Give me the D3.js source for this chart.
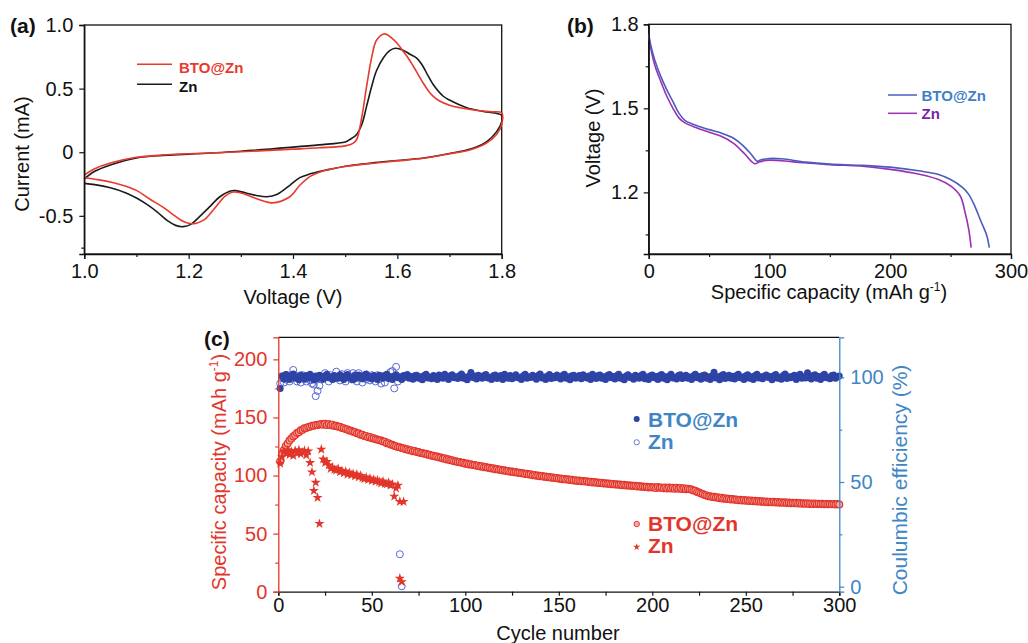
<!DOCTYPE html>
<html><head><meta charset="utf-8">
<script src="https://cdn.jsdelivr.net/npm/d3@7"></script>
<style>body{margin:0;background:#fff}svg{display:block}text{font-family:Arial,"Liberation Sans",sans-serif}</style>
</head><body><svg id="fig" width="1028" height="643"></svg>
<script>
// ---------- Panel (a): cyclic voltammetry ----------
const aXTicks = [1.0, 1.2, 1.4, 1.6, 1.8];
const aXMinor = [1.1, 1.3, 1.5, 1.7];
const aYTicks = [-0.5, 0, 0.5, 1.0];
const aYMinor = [-0.75];
const cvBtoUpV = [1.0,1.02,1.05,1.1,1.15,1.2,1.3,1.4,1.45,1.5,1.515,1.522,1.532,1.541,1.551,1.56,1.574,1.58,1.59,1.6,1.61,1.62,1.63,1.64,1.65,1.66,1.67,1.68,1.7,1.72,1.75,1.78,1.8];
const cvBtoUpI = [-0.18,-0.13,-0.085,-0.04,-0.022,-0.012,0.004,0.024,0.035,0.05,0.07,0.1,0.28,0.515,0.75,0.88,0.93,0.925,0.895,0.855,0.80,0.745,0.68,0.61,0.54,0.48,0.435,0.405,0.37,0.35,0.33,0.318,0.31];
const cvBtoLowV = [1.8,1.79,1.77,1.74,1.7,1.65,1.6,1.55,1.5,1.47,1.452,1.433,1.413,1.394,1.36,1.34,1.32,1.3,1.285,1.27,1.25,1.23,1.215,1.205,1.19,1.17,1.15,1.126,1.1,1.07,1.04,1.02,1.0];
const cvBtoLowI = [0.22,0.14,0.07,0.02,-0.012,-0.048,-0.068,-0.088,-0.112,-0.135,-0.155,-0.19,-0.26,-0.35,-0.398,-0.38,-0.35,-0.32,-0.313,-0.345,-0.44,-0.53,-0.558,-0.562,-0.545,-0.49,-0.43,-0.37,-0.3,-0.255,-0.225,-0.212,-0.2];
const cvZnUpV = [1.0,1.02,1.05,1.1,1.15,1.2,1.3,1.4,1.45,1.5,1.509,1.522,1.532,1.541,1.551,1.56,1.573,1.586,1.596,1.612,1.624,1.637,1.647,1.659,1.669,1.688,1.7,1.733,1.765,1.8];
const cvZnUpI = [-0.21,-0.15,-0.1,-0.045,-0.025,-0.015,0.008,0.04,0.058,0.08,0.1,0.14,0.22,0.36,0.52,0.64,0.74,0.8,0.817,0.8,0.77,0.74,0.69,0.6,0.53,0.44,0.41,0.35,0.32,0.29];
const cvZnLowV = [1.8,1.79,1.77,1.74,1.7,1.65,1.6,1.55,1.5,1.47,1.452,1.433,1.413,1.394,1.37,1.35,1.33,1.31,1.29,1.28,1.26,1.24,1.22,1.205,1.19,1.175,1.16,1.14,1.12,1.1,1.08,1.05,1.02,1.0];
const cvZnLowI = [0.24,0.16,0.08,0.025,-0.01,-0.045,-0.065,-0.085,-0.11,-0.135,-0.15,-0.17,-0.2,-0.26,-0.33,-0.35,-0.34,-0.32,-0.302,-0.305,-0.35,-0.43,-0.51,-0.565,-0.585,-0.575,-0.54,-0.47,-0.41,-0.36,-0.32,-0.28,-0.255,-0.245];

// ---------- Panel (b): discharge curves ----------
const bXTicks = [0, 100, 200, 300];
const bXMinor = [50, 150, 250];
const bYTicks = [1.2, 1.5, 1.8];
const bYMinor = [1.05, 1.35, 1.65];
const dcBtoCap = [0,2,5,10,15,20,25,30,40,50,60,70,80,85,90,92,100,110,130,150,175,200,225,240,250,260,265,270,275,280,282];
const dcBtoV = [1.765,1.72,1.673,1.614,1.566,1.525,1.483,1.457,1.438,1.424,1.412,1.394,1.359,1.335,1.311,1.315,1.321,1.32,1.308,1.301,1.297,1.29,1.276,1.264,1.246,1.217,1.193,1.151,1.098,1.045,1.003];
const dcZnCap = [0,2,5,10,15,20,25,30,40,50,60,70,80,85,88,92,100,120,150,175,200,225,240,250,258,262,265,267];
const dcZnV = [1.756,1.709,1.655,1.596,1.543,1.501,1.466,1.448,1.43,1.415,1.4,1.376,1.335,1.311,1.302,1.309,1.315,1.309,1.299,1.294,1.282,1.264,1.246,1.223,1.187,1.128,1.068,1.003];

// ---------- Panel (c): cycling ----------
const cXTicks = [0, 50, 100, 150, 200, 250, 300];
const cXMinor = [25, 75, 125, 175, 225, 275];
const cYLTicks = [0, 50, 100, 150, 200];
const cYLMinor = [25, 75, 125, 175];
const cYRTicks = [0, 50, 100];
const cYRMinor = [25, 75];
// BTO@Zn specific capacity, cycles 1..300
const btoCapacity = [
112,118.5,122,125.5,127.5,130.2,131.8,133.6,134.8,136.6,137.3,138.9,139.4,140.7,141,141.7,142.1,142.8,142.9,143.6,
143.6,143.9,144.4,143.7,144.5,143.5,144.3,143.2,143.8,142.7,142.9,141.9,142,141,140.8,140.1,139.7,138.8,138.6,137.6,
137.5,136.4,136.3,135.2,135.2,134.1,134.1,133,133.1,132.2,132.1,131.3,131,130.4,130.2,129.2,129.1,127.9,127.8,126.8,
126.5,125.7,125.3,124.5,124.4,123.6,123.4,122.7,122.6,121.8,121.8,121,121.1,120.2,120.2,119.5,119.4,118.7,118.7,117.9,
117.9,117.1,117.1,116.3,116.3,115.6,115.5,114.7,114.8,113.9,114,113.2,113.1,112.4,112.3,111.6,111.7,110.9,111,110.2,
110.3,109.6,109.8,109,109.1,108.5,108.5,107.8,108,107.2,107.3,106.7,106.7,106,106.2,105.4,105.6,104.9,105,104.4,
104.5,103.9,104,103.3,103.5,102.8,103,102.4,102.5,101.9,102,101.3,101.5,100.8,101,100.3,100.5,99.9,100,99.4,
99.6,99,99.2,98.6,98.8,98.2,98.3,97.8,97.9,97.3,97.5,96.9,97.1,96.6,96.7,96.2,96.4,95.8,96,95.4,
95.7,95.1,95.3,94.8,95,94.4,94.7,94.1,94.4,93.8,94,93.5,93.7,93.2,93.4,92.9,93.1,92.6,92.8,92.3,
92.5,92,92.2,91.7,92,91.4,91.7,91.1,91.4,90.9,91.1,90.6,90.9,90.3,90.6,90.1,90.3,89.8,90.1,89.6,
89.9,89.2,90.1,89.4,89.8,89,89.7,88.9,89.6,88.8,89.5,88.7,89.4,88.6,89.2,88.5,89,88.3,88.7,88.1,
87.9,87.2,86.8,85.9,85.3,84.5,84,83.2,82.9,82.2,82.2,81.5,81.7,81,81.2,80.5,80.8,80.1,80.5,79.8,
80,79.3,79.7,79.1,79.4,78.8,79.2,78.5,78.9,78.3,78.7,78.1,78.5,77.8,78.3,77.6,78.1,77.4,77.9,77.3,
77.7,77.1,77.5,76.9,77.4,76.7,77.2,76.6,77,76.5,76.9,76.3,76.7,76.2,76.6,76.1,76.5,75.9,76.4,75.8,
76.2,75.7,76.1,75.6,76,75.5,75.9,75.4,75.8,75.4,75.7,75.3,75.6,75.2,75.5,75.2,75.5,75.1,75.4,75.1
];
// BTO@Zn coulombic efficiency (%), cycles 1..300
const btoCE = [
94.7,100.5,99.2,101.3,100.1,98.9,100.8,101.6,99.5,100.2,98.8,101.1,100.4,99.3,100.9,99.7,101.4,100.0,98.7,100.6,
99.4,101.0,100.3,99.1,100.7,101.5,99.8,100.2,98.9,100.9,100.1,99.6,101.2,100.4,99.0,100.6,101.3,99.7,100.0,98.8,
100.8,99.5,101.1,100.2,99.3,100.7,101.6,99.9,100.4,99.2,100.9,100.1,98.9,101.0,100.3,99.6,100.8,101.4,99.4,100.2,
99.0,100.6,101.2,99.8,100.3,98.9,100.9,100.0,101.3,99.5,100.4,99.1,100.7,101.0,99.6,100.2,98.8,100.8,101.5,99.7,
100.1,99.3,100.9,100.4,98.9,101.1,100.0,99.5,101.4,100.2,99.0,100.7,101.2,99.8,100.3,99.4,100.8,101.6,99.6,100.1,
98.8,100.5,102.3,99.9,100.6,99.2,101.0,100.3,99.5,100.9,101.3,99.7,100.0,98.9,100.7,101.1,99.4,100.2,100.8,99.0,
101.4,100.1,99.6,100.9,99.3,100.4,101.2,99.8,100.0,98.9,100.7,101.5,99.5,100.3,99.9,101.0,100.2,99.1,100.8,101.6,
99.7,100.1,98.9,100.6,101.3,99.4,100.4,99.8,101.1,100.0,99.2,100.9,101.4,99.6,100.2,98.8,100.7,101.0,99.5,100.3,
100.9,99.3,101.2,100.1,99.7,100.6,98.9,101.5,100.0,99.4,100.8,101.1,99.6,100.2,99.0,100.9,101.3,99.8,100.4,99.2,
100.7,101.4,99.5,100.0,98.8,100.6,101.2,99.9,100.3,99.1,101.0,100.2,99.6,100.8,101.5,99.3,100.1,98.9,100.7,101.1,
99.8,100.4,99.0,100.9,101.3,99.5,100.2,98.8,100.6,101.4,99.7,100.0,99.2,100.8,101.2,99.4,100.3,101.0,99.6,100.1,
98.9,100.7,101.5,99.8,100.4,99.1,100.9,101.1,99.5,100.2,99.0,100.6,102.4,99.7,100.3,98.8,100.8,101.3,99.4,100.0,
101.0,99.6,100.5,99.2,100.9,101.4,99.8,100.1,98.9,100.7,101.2,99.5,100.3,99.0,100.8,101.5,99.7,100.2,99.3,100.6,
101.1,99.9,100.4,98.8,100.7,101.3,99.6,100.0,99.1,100.9,101.6,99.4,100.2,99.8,100.5,101.0,98.9,100.6,101.4,99.5,
100.3,99.7,102.2,100.1,99.2,100.8,101.2,99.6,100.4,98.9,100.7,101.5,99.8,100.0,99.3,100.9,101.1,99.5,100.2,100.6
];
// Bare Zn: specific capacity, cycles 1..64, then the failure points
const znCapacity = [
110.5,116,121,119,122,118,120.5,117,121.5,119,122,118.5,120,121.5,117.5,121,111,103,87,94,
81,58.5,122.5,114,111,112,109,106,107,105,104.5,106,103,104,102,103.5,101,102.5,100.5,101.5,
99.5,101,98.5,100,98,97,98.5,96.5,97.5,95.5,96.5,95,96,94.5,93.5,95,93,92.5,94,91.5,
92.5,82,89,91.5
];
const znCapTailCycle = [65, 65, 66, 67];
const znCapTail = [77.5, 11.5, 8.5, 77.5];
// Bare Zn: coulombic efficiency, cycles 1..66
const znCE = [
97,100.5,97.5,99,101,98,101,103.5,101,98,100,97.5,101,99,98,100,98.5,97,96.5,91,
93.5,96,99,100,102,100,98,101,100,99.5,102.7,100,98.5,101.5,100,98,102,100,99,102,
101,98,102,100,97.5,101,99,100,98.5,101,100,98,101,99,97,100.5,97.5,101,100,102.5,
103,94.7,105,98,15.5,0.2
];

// ---------- drawing ----------
const svg = d3.select('#fig');
const BLACK = '#111';
function fmt1(d){ return d === 0 ? '0' : d.toFixed(1).replace('\u2212','-'); }

function drawAxis(g, axisFn, scale, major, minor, opts) {
  const color = opts.color || BLACK;
  const a = g.append('g').attr('transform', opts.transform)
    .call(axisFn(scale).tickValues(major).tickSize(opts.major || 5).tickPadding(opts.pad || 5)
      .tickFormat(opts.format || (d => String(d))));
  a.select('.domain').attr('stroke', color).attr('stroke-width', 1.3);
  a.selectAll('.tick line').attr('stroke', color).attr('stroke-width', 1.2);
  a.selectAll('.tick text').attr('fill', color).attr('font-size', opts.fs || 20)
    .attr('font-family', 'Arial, "Liberation Sans", sans-serif');
  if (minor && minor.length) {
    const m = g.append('g').attr('transform', opts.transform)
      .call(axisFn(scale).tickValues(minor).tickSize(opts.minor || 3).tickFormat(''));
    m.select('.domain').remove();
    m.selectAll('.tick line').attr('stroke', color).attr('stroke-width', 1.2);
  }
  return a;
}
function frame(x0, x1, y0, y1, color) {
  svg.append('rect').attr('x', x0).attr('y', y0).attr('width', x1 - x0).attr('height', y1 - y0)
    .attr('fill', 'none').attr('stroke', color || BLACK).attr('stroke-width', 1.3);
}
function label(x, y, txt, o) {
  o = o || {};
  return svg.append('text').attr('x', x).attr('y', y).text(txt)
    .attr('font-size', o.fs || 20).attr('font-weight', o.bold ? 'bold' : 'normal')
    .attr('fill', o.color || BLACK).attr('text-anchor', o.anchor || 'start');
}
function vtitle(cx, cy, parts, o) {
  const t = svg.append('text').attr('transform', `translate(${cx},${cy}) rotate(-90)`)
    .attr('text-anchor', 'middle').attr('dy', '0.35em')
    .attr('font-size', o.fs || 20).attr('fill', o.color || BLACK);
  parts(t);
  return t;
}
function supTitle(t, pre, sup, post) {
  t.append('tspan').text(pre);
  t.append('tspan').text(sup).attr('font-size', 12).attr('dy', -8);
  t.append('tspan').text(post).attr('dy', 8);
}

// Panel (a)
{
  const x = d3.scaleLinear([1.0, 1.8], [84.3, 501.7]);
  const y = d3.scaleLinear([-0.8, 1.0], [254, 25]);
  frame(84.3, 501.7, 25, 254);
  const line = d3.line().x(d => x(d[0])).y(d => y(d[1])).curve(d3.curveCatmullRom.alpha(0.5));
  const loop = (uv, ui, lv, li) => uv.map((v, i) => [v, ui[i]]).concat(lv.map((v, i) => [v, li[i]]));
  svg.append('path').attr('d', line(loop(cvZnUpV, cvZnUpI, cvZnLowV, cvZnLowI)))
    .attr('fill', 'none').attr('stroke', '#1b1b1b').attr('stroke-width', 1.6);
  svg.append('path').attr('d', line(loop(cvBtoUpV, cvBtoUpI, cvBtoLowV, cvBtoLowI)))
    .attr('fill', 'none').attr('stroke', '#e8392d').attr('stroke-width', 1.6);
  drawAxis(svg, d3.axisBottom, x, aXTicks, aXMinor, {transform: 'translate(0,254)', format: d => d.toFixed(1), pad: 5});
  drawAxis(svg, d3.axisLeft, y, aYTicks, aYMinor, {transform: 'translate(84.3,0)', format: fmt1, pad: 6});
  label(293, 304, 'Voltage (V)', {anchor: 'middle'});
  vtitle(22, 154, t => t.text('Current (mA)'), {});
  label(10, 33, '(a)', {bold: true, fs: 21});
  // legend
  svg.append('line').attr('x1', 137).attr('x2', 172).attr('y1', 64.3).attr('y2', 64.3).attr('stroke', '#e8392d').attr('stroke-width', 1.5);
  svg.append('line').attr('x1', 137).attr('x2', 172).attr('y1', 84.3).attr('y2', 84.3).attr('stroke', '#1b1b1b').attr('stroke-width', 1.5);
  label(179, 73, 'BTO@Zn', {bold: true, fs: 15, color: '#e8392d'});
  label(179, 91.5, 'Zn', {bold: true, fs: 15, color: BLACK});
}

// Panel (b)
{
  const x = d3.scaleLinear([0, 300], [648.7, 1011]);
  const y = d3.scaleLinear([0.98, 1.8], [254, 24.3]);
  frame(648.7, 1011, 24.3, 254);
  const line = d3.line().x(d => x(d[0])).y(d => y(d[1])).curve(d3.curveCatmullRom.alpha(0.5));
  svg.append('path').attr('d', line(dcZnCap.map((c, i) => [c, dcZnV[i]])))
    .attr('fill', 'none').attr('stroke', '#9c2fb4').attr('stroke-width', 1.6);
  svg.append('path').attr('d', line(dcBtoCap.map((c, i) => [c, dcBtoV[i]])))
    .attr('fill', 'none').attr('stroke', '#4a5cbd').attr('stroke-width', 1.6);
  drawAxis(svg, d3.axisBottom, x, bXTicks, bXMinor, {transform: 'translate(0,254)', pad: 5});
  drawAxis(svg, d3.axisLeft, y, bYTicks, bYMinor, {transform: 'translate(648.7,0)', format: d => d.toFixed(1), pad: 5});
  const t = label(829, 299, '', {anchor: 'middle'});
  supTitle(t, 'Specific capacity (mAh g', '-1', ')');
  vtitle(593, 138, tt => tt.text('Voltage (V)'), {});
  label(567, 33, '(b)', {bold: true, fs: 21});
  svg.append('line').attr('x1', 888).attr('x2', 917).attr('y1', 95).attr('y2', 95).attr('stroke', '#4a5cbd').attr('stroke-width', 1.5);
  svg.append('line').attr('x1', 888).attr('x2', 917).attr('y1', 113.3).attr('y2', 113.3).attr('stroke', '#9c2fb4').attr('stroke-width', 1.5);
  label(921.5, 101, 'BTO@Zn', {bold: true, fs: 15, color: '#3f7fc8'});
  label(921.5, 119, 'Zn', {bold: true, fs: 15, color: '#7a1fa8'});
}

// Panel (c)
{
  const RED = '#e2352b', BLUE = '#3f86c7';
  const x = d3.scaleLinear([0, 300], [278.3, 839.3]);
  const yL = d3.scaleLinear([0, 219], [591.7, 337.3]);
  const yR = d3.scaleLinear([-2.4, 119.1], [591.7, 337.3]);
  svg.append('line').attr('x1', 278.3).attr('x2', 839.3).attr('y1', 337.3).attr('y2', 337.3).attr('stroke', BLACK).attr('stroke-width', 1.3);
  const g = svg.append('g');
  // Zn CE (open circles)
  g.selectAll('.zce').data(znCE).join('circle')
    .attr('cx', (d, i) => x(i + 1)).attr('cy', d => yR(d)).attr('r', 3.5)
    .attr('fill', 'none').attr('stroke', '#5a68d2').attr('stroke-width', 1);
  // BTO CE (filled)
  g.selectAll('.bce').data(btoCE).join('circle')
    .attr('cx', (d, i) => x(i + 1)).attr('cy', d => yR(d)).attr('r', 3.5)
    .attr('fill', '#2d43a5');
  // BTO capacity
  g.selectAll('.bcap').data(btoCapacity).join('circle')
    .attr('cx', (d, i) => x(i + 1)).attr('cy', d => yL(d)).attr('r', 3.4)
    .attr('fill', '#f6aaa2').attr('stroke', RED).attr('stroke-width', 1.2);
  // Zn capacity stars
  const star = d3.symbol().type(d3.symbolStar).size(32);
  const znPts = znCapacity.map((v, i) => [i + 1, v]).concat(znCapTail.map((v, i) => [znCapTailCycle[i], v]));
  g.selectAll('.zcap').data(znPts).join('path')
    .attr('transform', d => `translate(${x(d[0])},${yL(d[1])})`).attr('d', star).attr('fill', RED);
  drawAxis(svg, d3.axisBottom, x, cXTicks, cXMinor, {transform: 'translate(0,591.7)', major: 4, minor: 4, pad: 2, fs: 20});
  drawAxis(svg, d3.axisLeft, yL, cYLTicks, cYLMinor, {transform: 'translate(278.3,0)', color: RED, pad: 6, fs: 20});
  drawAxis(svg, d3.axisRight, yR, cYRTicks, cYRMinor, {transform: 'translate(839.3,0)', color: BLUE, pad: 6, fs: 20});
  label(558, 640, 'Cycle number', {anchor: 'middle'});
  vtitle(219, 472, tt => supTitle(tt, 'Specific capacity (mAh g', '-1', ')'), {color: RED, fs: 20});
  vtitle(900, 480, tt => tt.text('Coulumbic efficiency (%)'), {color: BLUE, fs: 21});
  label(204, 346, '(c)', {bold: true, fs: 21});
  // legend
  svg.append('circle').attr('cx', 636.7).attr('cy', 419).attr('r', 3).attr('fill', '#2d43a5');
  svg.append('circle').attr('cx', 636.7).attr('cy', 442.3).attr('r', 2.6).attr('fill', 'none').attr('stroke', '#5a68d2').attr('stroke-width', 0.9);
  svg.append('circle').attr('cx', 636.7).attr('cy', 524).attr('r', 2.7).attr('fill', '#f6aaa2').attr('stroke', RED).attr('stroke-width', 1);
  svg.append('path').attr('transform', 'translate(636.7,547)').attr('d', d3.symbol().type(d3.symbolStar).size(16)()).attr('fill', RED);
  label(648, 427, 'BTO@Zn', {bold: true, fs: 21, color: BLUE});
  label(648, 448.5, 'Zn', {bold: true, fs: 21, color: BLUE});
  label(648, 531, 'BTO@Zn', {bold: true, fs: 21, color: RED});
  label(648, 552.5, 'Zn', {bold: true, fs: 21, color: RED});
}
</script></body></html>
